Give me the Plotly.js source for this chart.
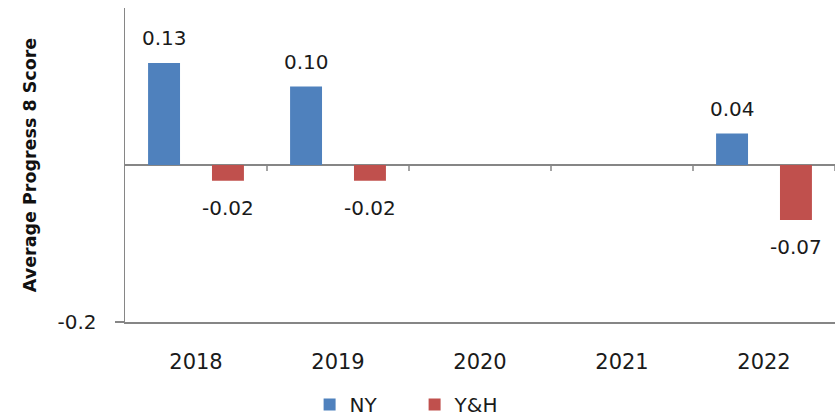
<!DOCTYPE html>
<html><head><meta charset="utf-8">
<script src="https://cdn.plot.ly/plotly-3.0.1.min.js"></script>
<style>html,body{margin:0;padding:0;background:#fff}</style>
</head><body><div id="chart" style="width:838px;height:416px"></div>
<script>
const years = ['2018','2019','2020','2021','2022'];
const nyValues = [0.13, 0.10, null, null, 0.04];
const yhValues = [-0.02, -0.02, null, null, -0.07];
const seriesNames = ['NY', 'Y&H'];
const yTickVals = [-0.2];
const yTickText = ['-0.2'];

const FONT = 'DejaVu Sans';
const GRAY = '#868686';
const traces = [
  {type:'bar', name:seriesNames[0], x:years, y:nyValues, marker:{color:'#4F81BD'}, hoverinfo:'none'},
  {type:'bar', name:seriesNames[1], x:years, y:yhValues, marker:{color:'#C0504D'}, hoverinfo:'none'}
];

const annotations = [];
[[nyValues,-32],[yhValues,32]].forEach(([vals,dx])=>{
  vals.forEach((v,i)=>{
    if(v===null) return;
    annotations.push({x:i, y:v, xref:'x', yref:'y', text:v.toFixed(2), showarrow:false,
      xshift:dx, yshift: v>=0 ? 11 : -13, yanchor: v>=0 ? 'bottom':'top',
      font:{family:FONT, size:20, color:'#1a1a1a'}});
  });
});

const shapes = years.map((y,i)=>({type:'line', xref:'x', yref:'y', x0:i+0.5, x1:i+0.5,
  ysizemode:'pixel', yanchor:0, y0:0, y1:-6, line:{color:GRAY, width:1.5}}));

const layout = {
  width:838, height:416,
  margin:{l:125, r:3, t:8, b:94, autoexpand:false},
  paper_bgcolor:'#fff', plot_bgcolor:'#fff',
  barmode:'group', bargap:0.1, bargroupgap:0.5,
  showlegend:true,
  legend:{orientation:'h', x:0.26, xanchor:'left', y:-0.325, yanchor:'bottom',
    entrywidth:60, entrywidthmode:'pixels',
    font:{family:FONT, size:20, color:'#1a1a1a'}, itemwidth:30, traceorder:'normal'},
  xaxis:{type:'category', showline:true, linecolor:GRAY, linewidth:1.5, ticks:'',
    showgrid:false, zeroline:false, ticklabelstandoff:20,
    tickfont:{family:FONT, size:21, color:'#1a1a1a'}, range:[-0.5,4.5]},
  yaxis:{range:[-0.2,0.2], tickvals:yTickVals, ticktext:yTickText, ticks:'outside', ticklen:9,
    tickcolor:GRAY, tickwidth:1.5, showline:true, linecolor:GRAY, linewidth:1.5,
    showgrid:false, zeroline:true, zerolinecolor:GRAY, zerolinewidth:1.5,
    ticklabelstandoff:14, tickfont:{family:FONT, size:20, color:'#1a1a1a'},
    title:{text:'Average Progress 8 Score', standoff:16, font:{family:FONT, size:17.5, color:'#111', weight:'bold'}}},
  annotations, shapes
};
Plotly.newPlot('chart', traces, layout, {staticPlot:true});
</script></body></html>
